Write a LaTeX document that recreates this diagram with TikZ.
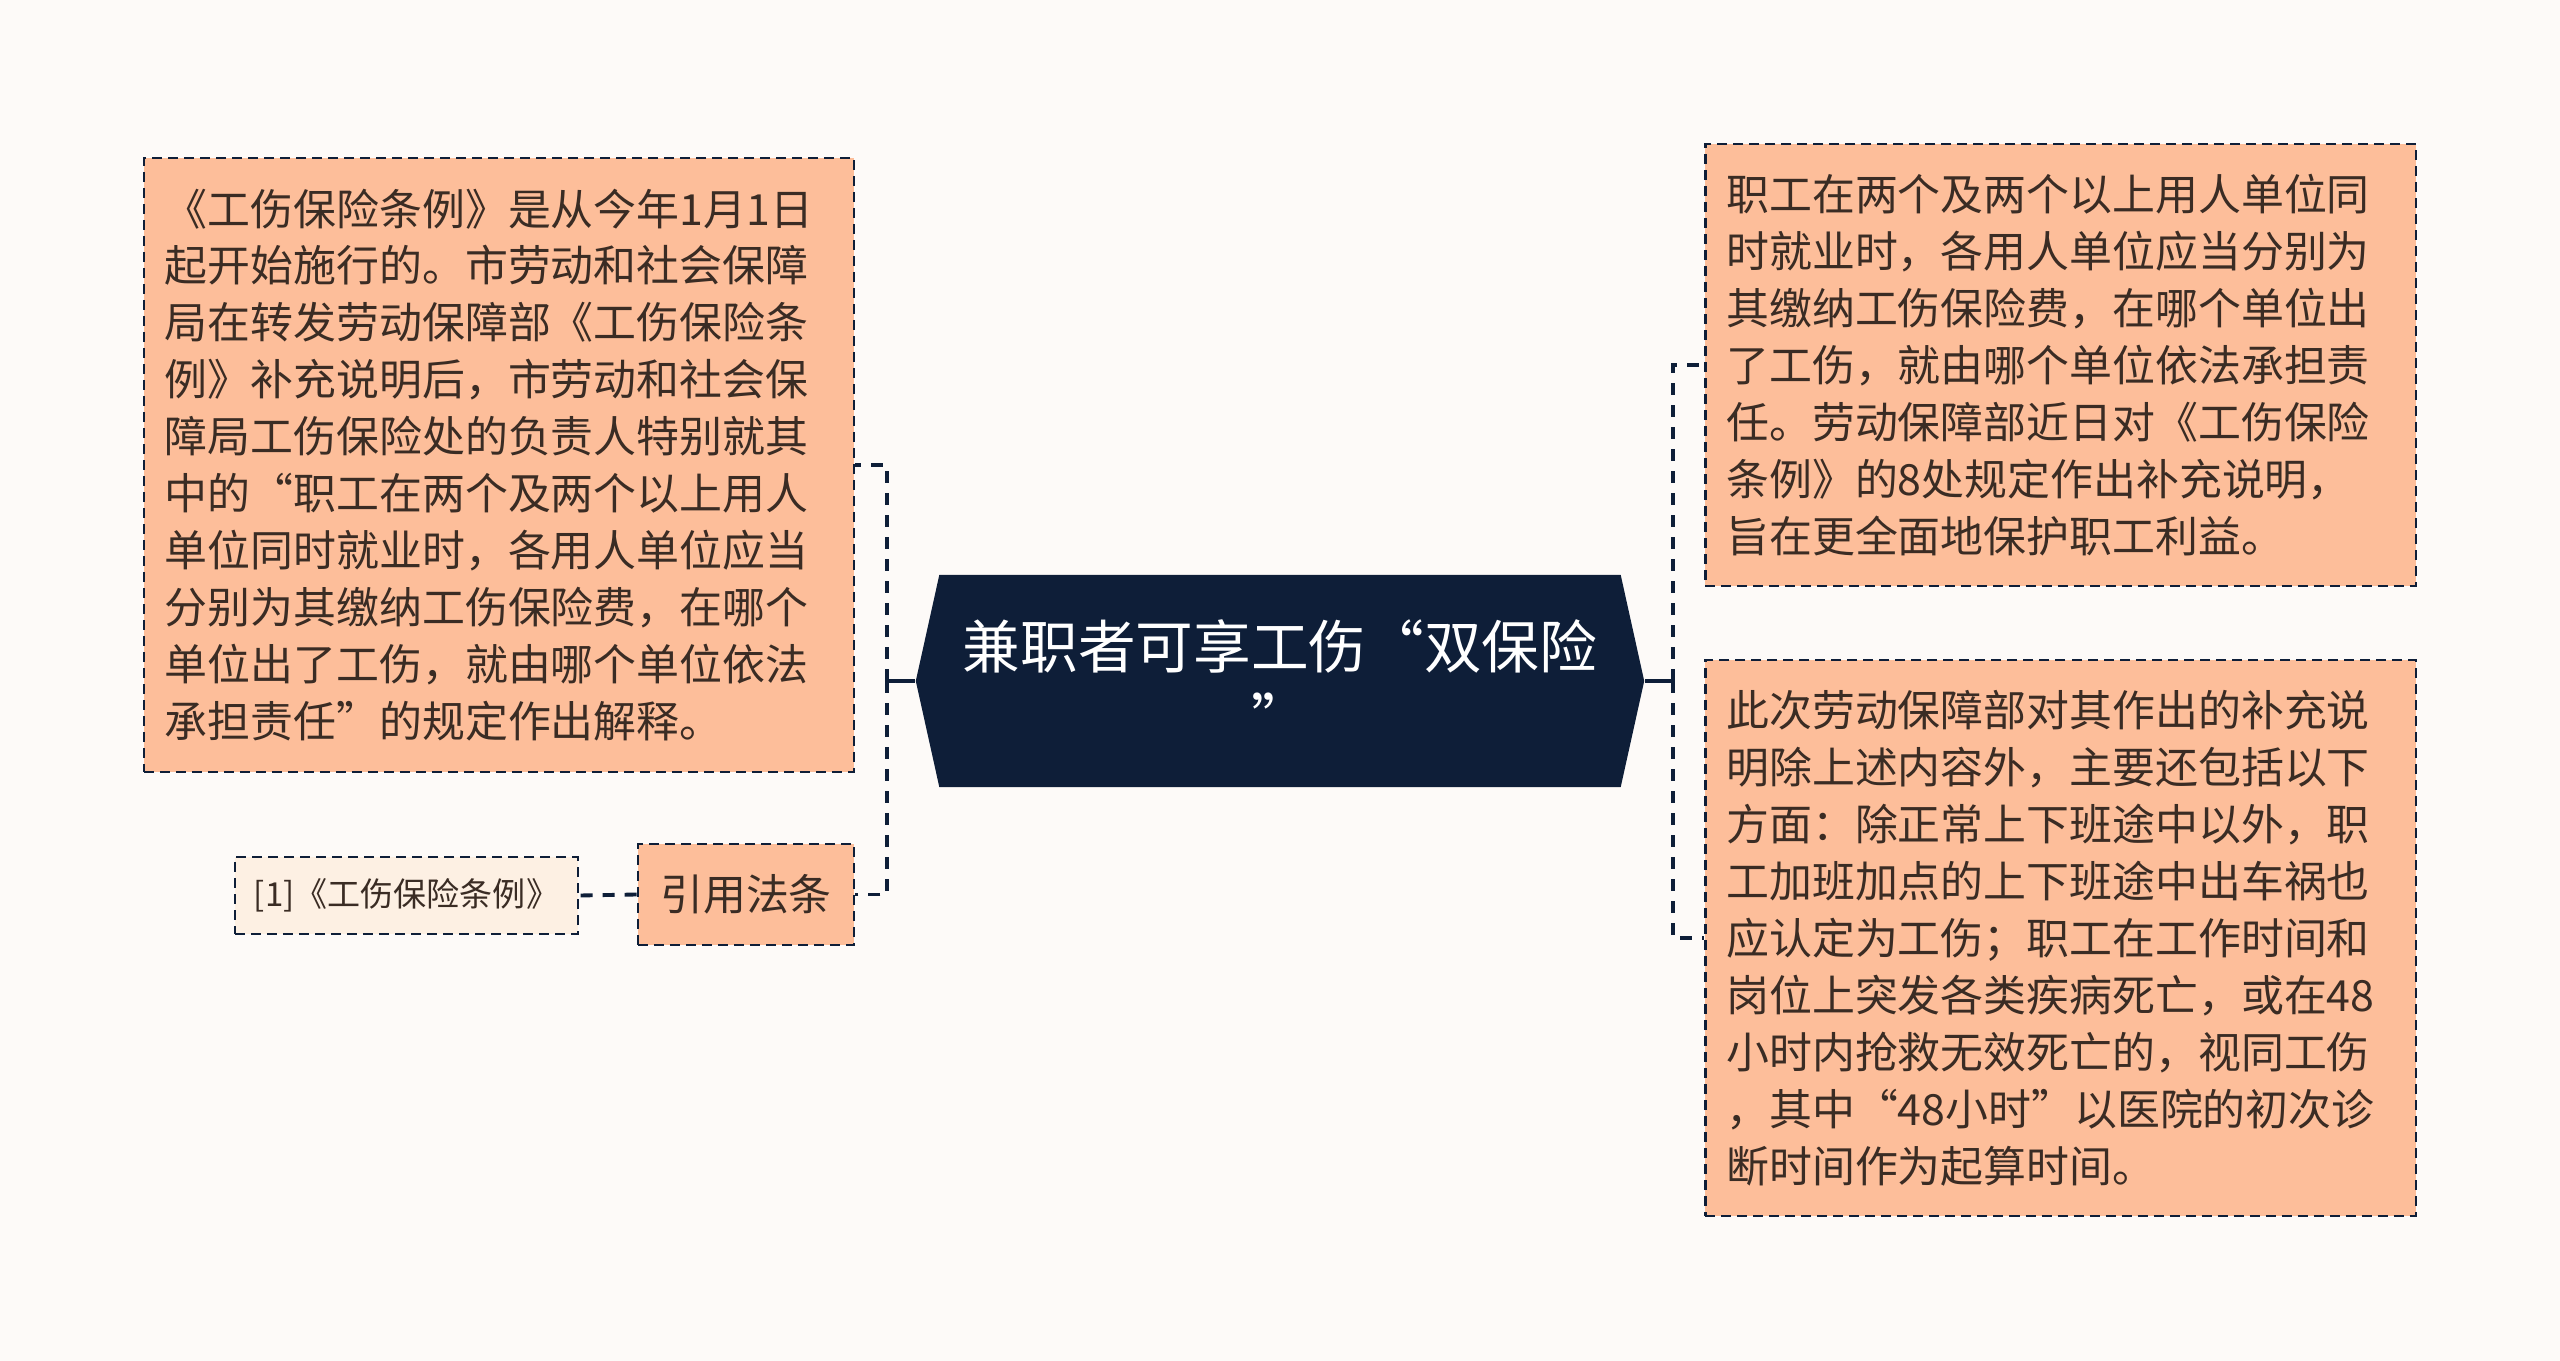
\documentclass[tikz,border=0pt]{standalone}
\usepackage{fontspec}
\setmainfont{Noto Sans CJK SC}
\usepackage{tikz}
\usetikzlibrary{shapes.symbols}
\definecolor{paper}{HTML}{FDFAF8}
\definecolor{navy}{HTML}{0E1E38}
\definecolor{salmon}{HTML}{FDBE9A}
\definecolor{cream}{HTML}{FDF0E3}
\definecolor{ink}{HTML}{3A2C24}

\begin{document}
\begin{tikzpicture}[x=0.01cm,y=-0.01cm]
\tikzset{topic/.style = {shape=signal,signal to=west and east,signal pointer angle=155,fill=navy,text=white,minimum width=7.28cm,minimum height=2.12cm,inner sep=0pt,align=center,font=\fontsize{16.4pt}{20.8pt}\selectfont}}
\tikzset{leaf/.style = {draw=navy,line width=0.7pt,dash pattern=on 0.1cm off 0.06cm,fill=salmon,text=ink,text width=6.68cm,inner xsep=0.21cm,align=left,font=\fontsize{12.2pt}{16.2pt}\selectfont}}
\tikzset{tag/.style = {leaf,text width=,align=center,inner sep=0pt}}
\tikzset{link/.style = {draw=navy,line width=1.1pt,dash pattern=on 0.12cm off 0.1cm}}
\fill[paper] (0,0) rectangle (2560,1361);
% nodes
\node[topic] (root) at (1280,681) {兼职者可享工伤“双保险\\”};
\node[leaf,minimum height=6.14cm] (intro) at (499,465) {《工伤保险条例》是从今年1月1日\\起开始施行的。市劳动和社会保障\\局在转发劳动保障部《工伤保险条\\例》补充说明后，市劳动和社会保\\障局工伤保险处的负责人特别就其\\中的“职工在两个及两个以上用人\\单位同时就业时，各用人单位应当\\分别为其缴纳工伤保险费，在哪个\\单位出了工伤，就由哪个单位依法\\承担责任”的规定作出解释。};
\node[tag,minimum width=2.16cm,minimum height=1.01cm] (cite) at (746,894.5) {引用法条};
\node[tag,fill=cream,minimum width=3.43cm,minimum height=0.77cm,font=\fontsize{9.4pt}{11pt}\selectfont] (law) at (406.5,895.5) {[1]《工伤保险条例》};
\node[leaf,minimum height=4.42cm] (dual) at (2060.5,365) {职工在两个及两个以上用人单位同\\时就业时，各用人单位应当分别为\\其缴纳工伤保险费，在哪个单位出\\了工伤，就由哪个单位依法承担责\\任。劳动保障部近日对《工伤保险\\条例》的8处规定作出补充说明，\\旨在更全面地保护职工利益。};
\node[leaf,minimum height=5.56cm] (extra) at (2060.5,938) {此次劳动保障部对其作出的补充说\\明除上述内容外，主要还包括以下\\方面：除正常上下班途中以外，职\\工加班加点的上下班途中出车祸也\\应认定为工伤；职工在工作时间和\\岗位上突发各类疾病死亡，或在48\\小时内抢救无效死亡的，视同工伤\\，其中“48小时”以医院的初次诊\\断时间作为起算时间。};
\coordinate (lj) at (887,681);
\coordinate (rj) at (1673,681);
% edges
\draw[navy,line width=1.1pt] (root.west) -- (lj);
\draw[navy,line width=1.1pt] (root.east) -- (rj);
\draw[link] (lj) |- (intro.east);
\draw[link] (lj) |- (cite.east);
\draw[link] (rj) |- (dual.west);
\draw[link] (rj) |- (extra.west);
\draw[link] (cite.west) -- (law.east);
\end{tikzpicture}
\end{document}
